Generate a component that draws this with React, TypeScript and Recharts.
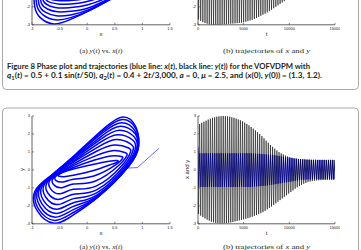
import React from 'react';
import { LineChart, Line, XAxis, YAxis } from 'recharts';

// ---------- axis ticks ----------
const phaseXTicks = [-1, -0.5, 0, 0.5, 1, 1.5];
const phaseYTicks = [-3, -2, -1, 0, 1, 2, 3];
const croppedYTicks = [-3, -2];
const timeTicks = [0, 5000, 10000, 15000];

// ---------- Figure 9 (bottom): phase plot loops (x, y), outermost -> innermost ----------
const fig9Loop0 = [[-0.65, -0.3], [-0.2, 0.9], [0.3, 2.3], [0.65, 2.95], [0.88, 2.4], [0.93, 1.3], [0.75, 0.2], [0.2, -1.5], [-0.25, -2.5], [-0.6, -2.97], [-0.9, -2.3], [-0.95, -1.2]];
const fig9Loop1 = [[-0.64, -0.29], [-0.2, 0.85], [0.29, 2.18], [0.64, 2.8], [0.88, 2.29], [0.93, 1.3], [0.75, 0.2], [0.2, -1.49], [-0.25, -2.37], [-0.59, -2.81], [-0.88, -2.18], [-0.92, -1.14]];
const fig9Loop2 = [[-0.62, -0.28], [-0.21, 0.79], [0.27, 2.04], [0.62, 2.63], [0.87, 2.16], [0.92, 1.29], [0.75, 0.2], [0.2, -1.47], [-0.25, -2.21], [-0.58, -2.63], [-0.85, -2.05], [-0.89, -1.08]];
const fig9Loop3 = [[-0.61, -0.27], [-0.21, 0.72], [0.26, 1.88], [0.6, 2.43], [0.87, 2.01], [0.91, 1.26], [0.74, 0.21], [0.2, -1.43], [-0.25, -2.03], [-0.56, -2.42], [-0.82, -1.89], [-0.86, -1.0]];
const fig9Loop4 = [[-0.59, -0.26], [-0.22, 0.65], [0.24, 1.7], [0.58, 2.21], [0.85, 1.84], [0.9, 1.22], [0.72, 0.21], [0.19, -1.37], [-0.25, -1.83], [-0.55, -2.19], [-0.79, -1.71], [-0.82, -0.92]];
const fig9Loop5 = [[-0.57, -0.24], [-0.22, 0.56], [0.22, 1.5], [0.55, 1.96], [0.83, 1.65], [0.87, 1.16], [0.7, 0.22], [0.18, -1.26], [-0.25, -1.6], [-0.53, -1.93], [-0.75, -1.52], [-0.78, -0.82]];
const fig9Loop6 = [[-0.55, -0.22], [-0.23, 0.47], [0.2, 1.28], [0.52, 1.69], [0.79, 1.44], [0.83, 1.08], [0.67, 0.23], [0.17, -1.11], [-0.25, -1.35], [-0.51, -1.64], [-0.71, -1.3], [-0.73, -0.72]];
const fig9Loop7 = [[-0.52, -0.21], [-0.23, 0.36], [0.17, 1.04], [0.49, 1.39], [0.75, 1.22], [0.78, 0.96], [0.63, 0.25], [0.16, -0.9], [-0.25, -1.08], [-0.49, -1.33], [-0.66, -1.07], [-0.68, -0.6]];
const fig9Loop8 = [[-0.5, -0.19], [-0.24, 0.25], [0.15, 0.78], [0.46, 1.07], [0.68, 0.97], [0.72, 0.81], [0.58, 0.27], [0.14, -0.63], [-0.25, -0.79], [-0.46, -0.99], [-0.61, -0.81], [-0.62, -0.48]];
const fig9Loop9 = [[-0.47, -0.17], [-0.24, 0.15], [0.12, 0.54], [0.43, 0.78], [0.62, 0.75], [0.64, 0.64], [0.52, 0.29], [0.12, -0.34], [-0.25, -0.52], [-0.44, -0.67], [-0.57, -0.58], [-0.57, -0.36]];
const fig9Loop10 = [[-0.45, -0.15], [-0.25, 0.05], [0.1, 0.3], [0.4, 0.48], [0.54, 0.52], [0.56, 0.45], [0.45, 0.32], [0.1, -0.05], [-0.25, -0.3], [-0.42, -0.38], [-0.52, -0.34], [-0.52, -0.25]];
const fig9Loops = [fig9Loop0, fig9Loop1, fig9Loop2, fig9Loop3, fig9Loop4, fig9Loop5, fig9Loop6, fig9Loop7, fig9Loop8, fig9Loop9, fig9Loop10];
const fig9Start = [[1.3, 1.2], [0.91, 0.13], [0.72, 0.1], [0.45, -0.55]];

// ---------- Figure 8 (top, cropped): lower arcs of the phase plot ----------
const fig8Arc0 = [[-0.97, -1.2], [-0.95, -2.0], [-0.85, -2.6], [-0.6, -2.95], [-0.3, -2.7], [0.05, -2.2], [0.5, -1.45]];
const fig8Arc1 = [[-0.93, -1.2], [-0.91, -1.95], [-0.8, -2.45], [-0.58, -2.72], [-0.3, -2.6], [0.05, -2.18], [0.5, -1.45]];
const fig8Arc2 = [[-0.89, -1.2], [-0.87, -1.9], [-0.76, -2.3], [-0.56, -2.5], [-0.3, -2.45], [0.04, -2.14], [0.49, -1.45]];
const fig8Arc3 = [[-0.85, -1.2], [-0.83, -1.8], [-0.72, -2.12], [-0.54, -2.28], [-0.3, -2.25], [0.03, -2.05], [0.48, -1.42]];
const fig8Arc4 = [[-0.81, -1.2], [-0.79, -1.7], [-0.68, -1.95], [-0.52, -2.06], [-0.3, -2.04], [0.0, -1.9], [0.46, -1.38]];
const fig8Arc5 = [[-0.77, -1.2], [-0.75, -1.6], [-0.64, -1.78], [-0.5, -1.85], [-0.3, -1.84], [-0.02, -1.72], [0.42, -1.3]];
const fig8Arc6 = [[-0.73, -1.2], [-0.71, -1.5], [-0.6, -1.62], [-0.48, -1.66], [-0.3, -1.65], [-0.05, -1.55], [0.38, -1.2]];
const fig8Arcs = [fig8Arc0, fig8Arc1, fig8Arc2, fig8Arc3, fig8Arc4, fig8Arc5, fig8Arc6];

// ---------- time series: one entry per oscillation cycle ----------
const cycleT = [60, 295, 530, 765, 1000, 1235, 1470, 1705, 1940, 2175, 2410, 2645, 2880, 3115, 3350, 3585, 3820, 4055, 4290, 4525, 4760, 4995, 5230, 5465, 5700, 5935, 6170, 6405, 6640, 6875, 7110, 7345, 7580, 7815, 8050, 8285, 8520, 8755, 8990, 9225, 9460, 9695, 9930, 10165, 10400, 10635, 10870, 11105, 11340, 11575, 11810, 12045, 12280, 12515, 12750, 12985, 13220, 13455, 13690, 13925, 14160, 14395, 14630, 14865];
const halfCycle = 117;
const xLag = 15;
const x0 = 1.3;
const y0 = 1.2;

const fig9YTrough = [-2.45, -2.55, -2.63, -2.7, -2.77, -2.83, -2.88, -2.92, -2.95, -2.97, -2.98, -2.98, -2.97, -2.96, -2.94, -2.92, -2.9, -2.87, -2.84, -2.81, -2.78, -2.75, -2.72, -2.69, -2.65, -2.61, -2.56, -2.51, -2.46, -2.41, -2.35, -2.28, -2.2, -2.12, -2.04, -1.95, -1.86, -1.77, -1.68, -1.59, -1.5, -1.41, -1.32, -1.23, -1.14, -1.05, -0.97, -0.9, -0.83, -0.77, -0.72, -0.68, -0.65, -0.62, -0.6, -0.59, -0.58, -0.57, -0.56, -0.56, -0.55, -0.55, -0.55, -0.55];
const fig9YPeak = [2.55, 2.62, 2.68, 2.74, 2.8, 2.85, 2.9, 2.93, 2.96, 2.98, 2.99, 3.0, 2.99, 2.98, 2.96, 2.93, 2.9, 2.86, 2.81, 2.76, 2.7, 2.63, 2.56, 2.48, 2.39, 2.3, 2.2, 2.1, 2.0, 1.88, 1.76, 1.63, 1.51, 1.39, 1.28, 1.18, 1.08, 0.99, 0.92, 0.86, 0.8, 0.75, 0.71, 0.68, 0.65, 0.63, 0.61, 0.6, 0.59, 0.58, 0.57, 0.57, 0.56, 0.56, 0.56, 0.55, 0.55, 0.55, 0.55, 0.55, 0.55, 0.55, 0.55, 0.55];
const fig9XTrough = [-0.95, -0.95, -0.95, -0.95, -0.95, -0.95, -0.95, -0.95, -0.95, -0.95, -0.95, -0.95, -0.95, -0.95, -0.95, -0.95, -0.95, -0.95, -0.95, -0.95, -0.95, -0.95, -0.95, -0.95, -0.95, -0.94, -0.93, -0.92, -0.91, -0.9, -0.89, -0.88, -0.87, -0.85, -0.83, -0.81, -0.79, -0.77, -0.75, -0.73, -0.71, -0.69, -0.67, -0.65, -0.63, -0.61, -0.59, -0.57, -0.56, -0.55, -0.54, -0.53, -0.53, -0.52, -0.52, -0.52, -0.52, -0.52, -0.52, -0.52, -0.52, -0.52, -0.52, -0.52];
const fig9XPeak = [0.93, 0.93, 0.93, 0.93, 0.93, 0.93, 0.93, 0.93, 0.93, 0.93, 0.93, 0.93, 0.93, 0.93, 0.93, 0.93, 0.93, 0.93, 0.93, 0.93, 0.93, 0.93, 0.93, 0.93, 0.93, 0.92, 0.91, 0.9, 0.89, 0.88, 0.87, 0.86, 0.85, 0.84, 0.83, 0.81, 0.79, 0.77, 0.75, 0.73, 0.71, 0.69, 0.67, 0.65, 0.63, 0.62, 0.61, 0.6, 0.59, 0.58, 0.57, 0.57, 0.56, 0.56, 0.56, 0.56, 0.56, 0.56, 0.56, 0.56, 0.56, 0.56, 0.56, 0.56];

// Figure 8 (top, cropped): only the lower tips of y(t) are visible
const fig8YTrough = [-2.7, -2.78, -2.85, -2.9, -2.94, -2.97, -2.99, -3.0, -3.0, -3.0, -2.99, -2.98, -2.97, -2.96, -2.95, -2.94, -2.93, -2.92, -2.91, -2.9, -2.88, -2.86, -2.83, -2.8, -2.76, -2.72, -2.67, -2.62, -2.56, -2.5, -2.44, -2.38, -2.31, -2.24, -2.16, -2.08, -2.0, -1.92, -1.84, -1.76, -1.68, -1.6, -1.52, -1.44, -1.37, -1.3, -1.24, -1.18, -1.13, -1.08, -1.04, -1.0, -0.97, -0.94, -0.92, -0.9, -0.88, -0.86, -0.85, -0.84, -0.83, -0.82, -0.81, -0.8];
const fig8YPeak = fig9YPeak; // upper part is cropped out of the reference

// ---------- table builders ----------
const toPts = (arr: number[][], closed: boolean) => {
  const p = arr.map(([x, y]) => ({ x, y }));
  return closed ? [...p, p[0]] : p;
};
const ySeries = (troughs: number[], peaks: number[]) => {
  const out = [{ t: 0, v: y0 }];
  cycleT.forEach((t, i) => {
    out.push({ t, v: troughs[i] });
    out.push({ t: t + halfCycle, v: peaks[i] });
  });
  return out;
};
const xSeries = (troughs: number[], peaks: number[]) => {
  const out = [{ t: 0, v: x0 }];
  cycleT.forEach((t, i) => {
    out.push({ t: t + xLag, v: troughs[i] });
    out.push({ t: t + xLag + halfCycle, v: peaks[i] });
  });
  return out;
};

// ---------- layout ----------
const PLOT_H = 107.8;
const CH_H = 5 + PLOT_H + 20;
const AX = '#3a3a3a';
const TICK_FONT = { fontSize: 4, fill: '#222', fontFamily: '"Liberation Sans", Arial, sans-serif' };
const SANS = '"Liberation Sans", Arial, sans-serif';
const SERIF = '"Liberation Serif", "Times New Roman", serif';
const BOLD = 'Lato, "Noto Sans", sans-serif';

function axisSet(xDomain: [number, number], xTicks: number[], xKey: string, yWidth: number, yTicks: number[]) {
  const common = { axisLine: { stroke: AX, strokeWidth: 0.8 }, tickLine: { stroke: AX, strokeWidth: 0.6 }, tickSize: -2 };
  return [
    <XAxis key="xb" xAxisId="b" type="number" dataKey={xKey} domain={xDomain} ticks={xTicks} allowDataOverflow
      orientation="bottom" height={20} tickMargin={4.5} tick={TICK_FONT} interval={0} {...common} />,
    <XAxis key="xt" xAxisId="t" type="number" dataKey={xKey} domain={xDomain} ticks={xTicks} allowDataOverflow
      orientation="top" height={0} tickFormatter={() => ''} interval={0} {...common} />,
    <YAxis key="yl" yAxisId="l" type="number" domain={[-3, 3]} ticks={yTicks} allowDataOverflow
      orientation="left" width={yWidth} tickMargin={4} tick={TICK_FONT} interval={0} {...common} />,
    <YAxis key="yr" yAxisId="r" type="number" domain={[-3, 3]} ticks={yTicks} allowDataOverflow
      orientation="right" width={0} tickFormatter={() => ''} interval={0} {...common} />,
  ];
}

function PhaseChart({ top, curves, closed, start, yTicks }: { top: number; curves: number[][][]; closed: boolean; start?: number[][]; yTicks: number[] }) {
  return (
    <div style={{ position: 'absolute', left: 0, top, width: 175, height: CH_H }}>
      <LineChart width={175} height={CH_H} margin={{ top: 5, right: 5, bottom: 0, left: 0 }}>
        {axisSet([-1, 1.5], phaseXTicks, 'x', 32, yTicks)}
        {curves.map((c, i) => (
          <Line key={i} xAxisId="b" yAxisId="l" data={toPts(c, closed)} dataKey="y" type="natural"
            stroke="#0000ff" strokeWidth={1.5} dot={false} activeDot={false} isAnimationActive={false} />
        ))}
        {start && (
          <Line xAxisId="b" yAxisId="l" data={toPts(start, false)} dataKey="y" type="linear"
            stroke="#0000ff" strokeWidth={0.6} dot={false} activeDot={false} isAnimationActive={false} />
        )}
      </LineChart>
    </div>
  );
}

function TimeChart({ top, ySer, xSer, yTicks }: { top: number; ySer: { t: number; v: number }[]; xSer?: { t: number; v: number }[]; yTicks: number[] }) {
  return (
    <div style={{ position: 'absolute', left: 180, top, width: 160, height: CH_H }}>
      <LineChart width={160} height={CH_H} margin={{ top: 5, right: 5, bottom: 0, left: 0 }}>
        {axisSet([0, 15000], timeTicks, 't', 18, yTicks)}
        {xSer && (
          <Line xAxisId="b" yAxisId="l" data={xSer} dataKey="v" type="linear"
            stroke="#0000ff" strokeWidth={0.8} dot={false} activeDot={false} isAnimationActive={false} />
        )}
        <Line xAxisId="b" yAxisId="l" data={ySer} dataKey="v" type="linear"
          stroke="#000" strokeWidth={0.55} dot={false} activeDot={false} isAnimationActive={false} />
      </LineChart>
    </div>
  );
}

const It = ({ children }: { children: React.ReactNode }) => <tspan fontStyle="italic">{children}</tspan>;

export default function App() {
  const topT = 25 - PLOT_H - 5;
  const botT = 115.5 - 5;
  return (
    <div style={{ position: 'fixed', left: 0, top: 0, width: 361, height: 250, overflow: 'hidden', background: '#fff' }}>
      <PhaseChart top={topT} curves={fig8Arcs} closed={false} yTicks={croppedYTicks} />
      <TimeChart top={topT} ySer={ySeries(fig8YTrough, fig8YPeak)} yTicks={croppedYTicks} />
      <PhaseChart top={botT} curves={fig9Loops} closed={true} start={fig9Start} yTicks={phaseYTicks} />
      <TimeChart top={botT} ySer={ySeries(fig9YTrough, fig9YPeak)} xSer={xSeries(fig9XTrough, fig9XPeak)} yTicks={phaseYTicks} />
      <svg width={361} height={250} style={{ position: 'absolute', left: 0, top: 0, pointerEvents: 'none' }}>
        <rect x={2.5} y={-20} width={356} height={109.5} rx={4} fill="none" stroke="#a8a8a8" strokeWidth={1} />
        <rect x={2.5} y={108} width={356} height={200} rx={4} fill="none" stroke="#a8a8a8" strokeWidth={1} />

        {/* top panel labels */}
        <text x={101} y={35.9} textAnchor="middle" fontFamily={SANS} fontSize={6} fill="#222">x</text>
        <text x={266.5} y={35.9} textAnchor="middle" fontFamily={SANS} fontSize={6} fill="#222">t</text>
        <text x={79.5} y={52.5} textLength={43} lengthAdjust="spacingAndGlyphs" fontFamily={SERIF} fontSize={7} fill="#231f20">
          (a) <It>y</It>(<It>t</It>) vs. <It>x</It>(<It>t</It>)
        </text>
        <text x={223} y={52.5} textLength={87} lengthAdjust="spacingAndGlyphs" fontFamily={SERIF} fontSize={7} fill="#231f20">
          (b) trajectories of <It>x</It> and <It>y</It>
        </text>

        {/* caption */}
        <text x={7} y={68.5} textLength={303} lengthAdjust="spacingAndGlyphs" fontFamily={BOLD} fontWeight={700} fontSize={7} fill="#231f20">
          Figure 8  Phase plot and trajectories (blue line: <It>x</It>(<It>t</It>), black line: <It>y</It>(<It>t</It>)) for the VOFVDPM with
        </text>
        <text x={7} y={78} textLength={315} lengthAdjust="spacingAndGlyphs" fontFamily={BOLD} fontWeight={700} fontSize={7} fill="#231f20">
          <It>q</It><tspan fontSize={5} dy={1.5}>1</tspan><tspan dy={-1.5}>(</tspan><It>t</It>) = 0.5 + 0.1 sin(<It>t</It>/50), <It>q</It><tspan fontSize={5} dy={1.5}>2</tspan><tspan dy={-1.5}>(</tspan><It>t</It>) = 0.4 + 2<It>t</It>/3,000, <It>a</It> = 0, <It>μ</It> = 2.5, and (<It>x</It>(0), <It>y</It>(0)) = (1.3, 1.2).
        </text>

        {/* bottom panel labels */}
        <text x={101} y={234.9} textAnchor="middle" fontFamily={SANS} fontSize={6} fill="#222">x</text>
        <text x={266.5} y={234.9} textAnchor="middle" fontFamily={SANS} fontSize={6} fill="#222">t</text>
        <text x={21.7} y={169.4} transform="rotate(-90 21.7 169.4)" textAnchor="middle" dominantBaseline="central" fontFamily={SANS} fontSize={6} fill="#222">y</text>
        <text x={187.3} y={169.4} transform="rotate(-90 187.3 169.4)" textAnchor="middle" dominantBaseline="central" fontFamily={SANS} fontSize={6} fill="#222">x and y</text>
        <text x={79.5} y={249.2} textLength={43} lengthAdjust="spacingAndGlyphs" fontFamily={SERIF} fontSize={7} fill="#231f20">
          (a) <It>y</It>(<It>t</It>) vs. <It>x</It>(<It>t</It>)
        </text>
        <text x={223} y={249.2} textLength={87} lengthAdjust="spacingAndGlyphs" fontFamily={SERIF} fontSize={7} fill="#231f20">
          (b) trajectories of <It>x</It> and <It>y</It>
        </text>
      </svg>
    </div>
  );
}
